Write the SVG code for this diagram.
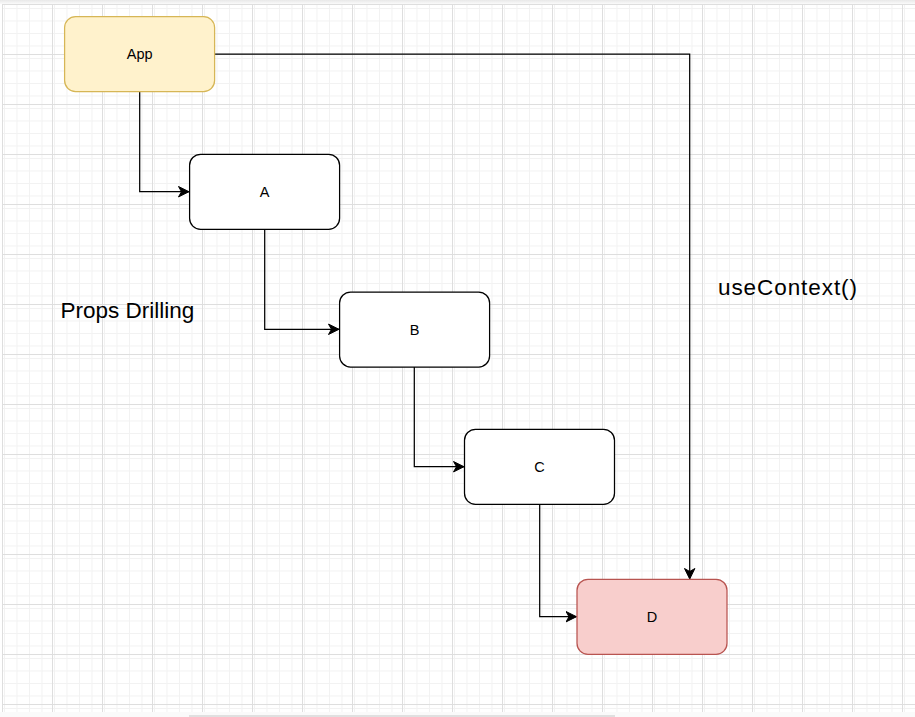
<svg xmlns="http://www.w3.org/2000/svg" width="915" height="717" viewBox="0 0 915 717">
  <style>
    .node { stroke-width: 1.25; }
    .plain { fill: #ffffff; stroke: #000000; }
    .lbl { font-family: "Liberation Sans", Arial, sans-serif; font-size: 14.5px; fill: #000000; text-anchor: middle; }
    .big { font-family: "Liberation Sans", Arial, sans-serif; font-size: 22.5px; fill: #000000; }
    .edge { fill: none; stroke: #000000; stroke-width: 1.25; }
  </style>
  <defs>
    <linearGradient id="topband" x1="0" y1="0" x2="0" y2="1">
      <stop offset="0" stop-color="#e8e8e8"/>
      <stop offset="1" stop-color="#fafafa"/>
    </linearGradient>
    <pattern id="minor" x="2" y="4" width="12.5" height="12.5" patternUnits="userSpaceOnUse">
      <path d="M0.5 0 V12.5 M0 0.5 H12.5" stroke="#f2f2f2" stroke-width="1" fill="none"/>
    </pattern>
    <pattern id="major" x="2" y="4" width="50" height="50" patternUnits="userSpaceOnUse">
      <rect width="50" height="50" fill="url(#minor)"/>
      <path d="M0.5 0 V50 M0 0.5 H50" stroke="#dedede" stroke-width="1" fill="none"/>
    </pattern>
    <marker id="arrow" markerUnits="userSpaceOnUse" viewBox="-11 -6 12 12" markerWidth="12" markerHeight="12" refX="0" refY="0" orient="auto">
      <path d="M0 0 L-10.5 -5.2 L-7.5 0 L-10.5 5.2 Z" fill="#000000" stroke="#000000" stroke-width="1"/>
    </marker>
  </defs>

  <rect x="0" y="0" width="915" height="717" fill="#ffffff"/>
  <rect x="0" y="0" width="915" height="4" fill="url(#topband)"/>
  <rect x="2" y="4" width="913" height="708" fill="url(#major)"/>
  <rect x="0" y="712" width="915" height="5" fill="#fafafa"/>
  <rect x="189" y="715" width="426" height="2" fill="#e0e0e0"/>

  <g id="connectors">
    <polyline class="edge" points="139.7,91.5 139.7,191.7 189,191.7" marker-end="url(#arrow)"/>
    <polyline class="edge" points="264.7,229 264.7,329.3 339,329.3" marker-end="url(#arrow)"/>
    <polyline class="edge" points="414.3,367 414.3,466.7 464,466.7" marker-end="url(#arrow)"/>
    <polyline class="edge" points="539.7,504 539.7,616.7 576.5,616.7" marker-end="url(#arrow)"/>
    <polyline class="edge" points="214.5,54 689.7,54 689.7,579" marker-end="url(#arrow)"/>
  </g>

  <g id="node-app">
    <rect class="node" x="64.6" y="16.6" width="150" height="75" rx="11" ry="11" fill="#fff2cc" stroke="#d6b656"/>
    <text class="lbl" x="139.7" y="59.2">App</text>
  </g>
  <g id="node-a">
    <rect class="node plain" x="189.6" y="154.3" width="150" height="75" rx="11" ry="11"/>
    <text class="lbl" x="264.6" y="197">A</text>
  </g>
  <g id="node-b">
    <rect class="node plain" x="339.6" y="292" width="150" height="75" rx="11" ry="11"/>
    <text class="lbl" x="414.6" y="334.6">B</text>
  </g>
  <g id="node-c">
    <rect class="node plain" x="464.5" y="429.3" width="150" height="75" rx="11" ry="11"/>
    <text class="lbl" x="539.5" y="472">C</text>
  </g>
  <g id="node-d">
    <rect class="node" x="577" y="579.3" width="150" height="75" rx="11" ry="11" fill="#f8cecc" stroke="#b85450"/>
    <text class="lbl" x="652" y="622">D</text>
  </g>

  <g id="label-props">
    <text class="big" x="60.5" y="317.8">Props Drilling</text>
  </g>
  <g id="label-context">
    <text class="big" x="718" y="294.5" textLength="139" lengthAdjust="spacing">useContext()</text>
  </g>
</svg>
